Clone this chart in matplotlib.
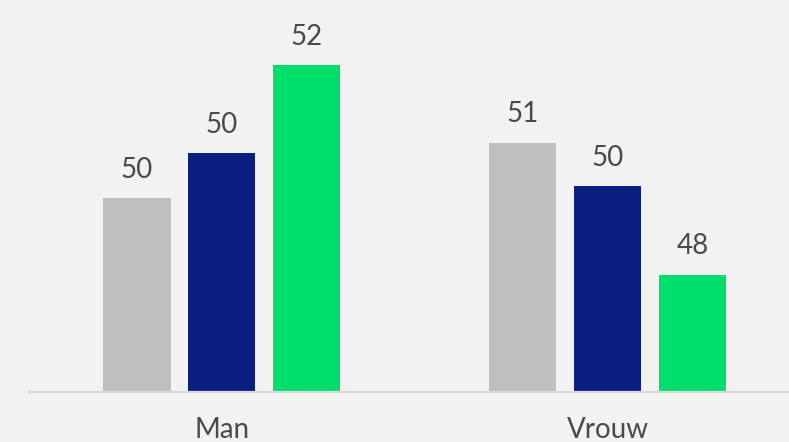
import matplotlib
matplotlib.use("Agg")
import matplotlib.pyplot as plt
import numpy as np

categories = ["Man", "Vrouw"]
series_names = ["Reeks 1", "Reeks 2", "Reeks 3"]
values = {
    "Reeks 1": [49.58, 50.6],
    "Reeks 2": [50.41, 49.8],
    "Reeks 3": [52.04, 48.16],
}
colors = ["#bfbfbf", "#0c1f80", "#00df6c"]

plt.rcParams["font.family"] = ["Lato", "DejaVu Sans"]
text_color = "#4a4a4a"

W, H = 789, 442
fig = plt.figure(figsize=(W / 100, H / 100), dpi=100)
fig.patch.set_facecolor("#f2f2f2")
ax = fig.add_axes([29 / W, (H - 391.5) / H, (W - 29) / W, 378.5 / H])
ax.set_facecolor("#f2f2f2")

x = np.arange(len(categories))
width = 0.1736
step = 0.2202
for i, name in enumerate(series_names):
    pos = x + (i - 1) * step
    ax.bar(pos, values[name], width=width, color=colors[i], bottom=0)
    for xb, v in zip(pos, values[name]):
        ax.annotate(f"{v:.0f}", (xb, v), xytext=(0, 11), textcoords="offset points",
                    ha="center", va="bottom", fontsize=20, color=text_color,
                    fontweight="normal")

ax.set_ylim(46, 53)
ax.set_xlim(-0.5, 1.469)
ax.set_xticks(x)
ax.set_xticklabels(categories, fontsize=20, color=text_color, fontweight="normal")
ax.tick_params(axis="x", length=0, pad=18)
ax.set_yticks([])
for s in ["top", "right", "left"]:
    ax.spines[s].set_visible(False)
ax.spines["bottom"].set_color("#d9d9d9")
ax.spines["bottom"].set_linewidth(1.6)

fig.savefig("out.png", dpi=100, facecolor=fig.get_facecolor())
